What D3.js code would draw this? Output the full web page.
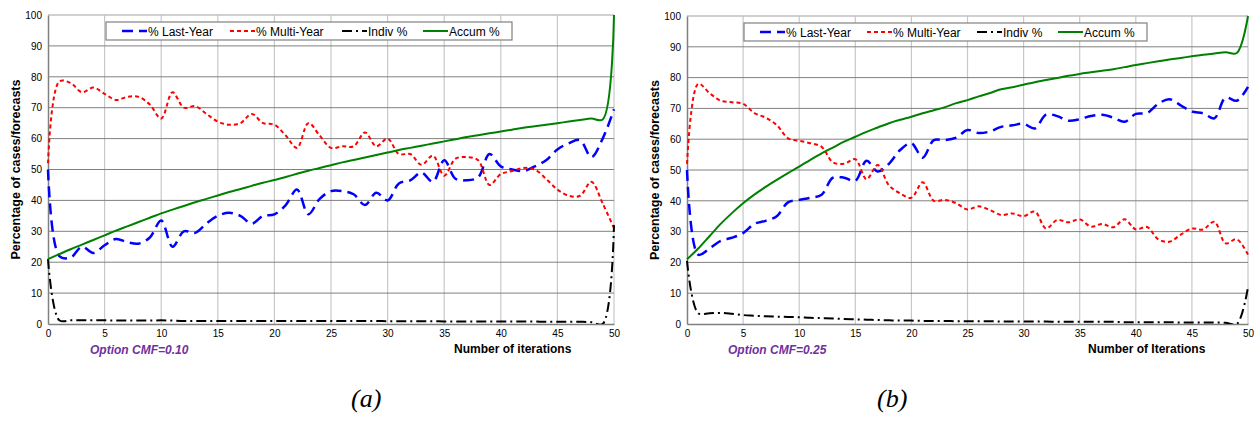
<!DOCTYPE html>
<html>
<head>
<meta charset="utf-8">
<script src="https://cdnjs.cloudflare.com/ajax/libs/d3/7.8.5/d3.min.js"></script>
<style>
    body { margin: 0; background: #fff; }
    svg { display: block; font-family: "Liberation Sans", Arial, sans-serif; }
    .axis text { font-size: 10px; fill: #000; }
</style>
</head>
<body>
<svg id="chart" width="1255" height="423"></svg>
<script>
// shared axes
var iterations = d3.range(0, 51);
var xTicks = [0, 5, 10, 15, 20, 25, 30, 35, 40, 45, 50];
var yTicks = [0, 10, 20, 30, 40, 50, 60, 70, 80, 90, 100];
var seriesNames = ["% Last-Year", "% Multi-Year", "Indiv %", "Accum %"];

// panel (a) : Option CMF=0.10
var lastYearA = [50, 22, 21.5, 25, 23, 25.5, 27.5, 26.5, 26, 28, 33.5, 25, 30, 29.5, 32.5, 35, 36, 35, 32.5, 35,
    35.5, 38.5, 43.5, 35.5, 40.5, 43, 43, 42, 38.5, 42.5, 40, 45.5, 46.5, 49, 46, 53, 47, 46.5, 47.5, 55,
    51, 50, 49.5, 51, 53, 56.5, 58.5, 59.5, 54, 60, 69.5];
var multiYearA = [52, 78.5, 78, 75, 76.5, 74.5, 72.5, 73.5, 73.5, 71, 66.5, 75, 70, 70.5, 68, 65.5, 64.5, 65, 68, 65,
    64.5, 61, 57, 65, 61, 57, 57.5, 57.5, 62, 57.5, 60, 55, 55, 51.5, 54.5, 48, 53.5, 54, 53, 45,
    48.5, 49.5, 50.5, 50, 47, 43.5, 41.5, 41.5, 46, 39, 31];
var indivA = [21, 1.2, 1.2, 1.2, 1.2, 1.2, 1.1, 1.1, 1.1, 1.1, 1.2, 1.1, 1, 1, 1, 1, 1, 1, 1, 1,
    1, 1, 1, 1, 1, 1, 1, 1, 1, 1, 0.9, 0.9, 0.9, 0.9, 0.9, 0.8, 0.8, 0.8, 0.8, 0.8,
    0.8, 0.8, 0.8, 0.8, 0.7, 0.7, 0.7, 0.7, 0.6, 0, 32];
var accumA = [21, 22.6, 24.2, 25.7, 27.2, 28.7, 30.2, 31.6, 33, 34.4, 35.8, 37, 38.2, 39.4, 40.5, 41.6, 42.7, 43.7, 44.7, 45.7,
    46.6, 47.6, 48.6, 49.6, 50.5, 51.4, 52.3, 53.1, 53.9, 54.7, 55.5, 56.3, 57, 57.7, 58.4, 59.1, 59.8, 60.5, 61.1, 61.7,
    62.3, 62.9, 63.5, 64, 64.5, 65, 65.5, 66, 66.5, 66.2, 100];

// panel (b) : Option CMF=0.25
var lastYearB = [50, 22.5, 24.5, 27, 28, 29.5, 32.5, 33.5, 35, 39.5, 40.3, 41, 42, 47.5, 47.5, 46.5, 53, 49.5, 52, 56.5,
    58.7, 54, 59.7, 59.7, 60.5, 63, 62, 62.5, 64, 64.5, 65, 63.5, 68, 67.5, 66, 66.5, 67.5, 67.9, 67, 65.7,
    68.2, 68.5, 71.5, 73, 71, 69, 68.4, 66.8, 73.5, 72.5, 77];
var multiYearB = [52, 78, 75, 72.5, 72, 71.5, 68.5, 67, 64.6, 60.3, 59.5, 58.7, 57.5, 52.5, 52, 53.5, 47, 51.6, 45, 42.4,
    41, 46, 40, 40.3, 39.2, 37.2, 38.2, 37, 35.4, 35.9, 35, 36.5, 31, 33.8, 33, 34, 31.6, 32.5, 31.4, 34,
    30.7, 31.5, 27.5, 26.7, 29, 31, 30.7, 33.2, 26.2, 27.5, 22.5];
var indivB = [20.5, 3.5, 3.5, 3.6, 3.3, 2.9, 2.7, 2.5, 2.4, 2.3, 2.2, 2, 1.9, 1.8, 1.6, 1.5, 1.4, 1.3, 1.2, 1.1,
    1.1, 1, 1, 1, 0.9, 0.9, 0.9, 0.9, 0.8, 0.8, 0.8, 0.8, 0.8, 0.7, 0.7, 0.7, 0.7, 0.7, 0.7, 0.6,
    0.6, 0.6, 0.6, 0.6, 0.5, 0.5, 0.5, 0.5, 0.4, 0, 12];
var accumB = [21, 24.5, 28.5, 32.5, 36, 39.2, 42, 44.5, 46.8, 49, 51.1, 53.3, 55.4, 57.3, 59.2, 60.8, 62.4, 63.8, 65.2, 66.3,
    67.3, 68.4, 69.4, 70.4, 71.7, 72.7, 73.9, 75, 76.2, 76.9, 77.7, 78.5, 79.2, 79.9, 80.6, 81.2, 81.7, 82.2, 82.7, 83.4,
    84.1, 84.7, 85.3, 85.9, 86.4, 86.9, 87.4, 87.8, 88.2, 88, 100];

// line styles for the four series
var styles = [
    { color: "#0000ff", width: 2.5, dash: "11,6" },
    { color: "#ff0000", width: 2, dash: "4,3" },
    { color: "#000000", width: 2, dash: "10,4,2,4" },
    { color: "#008000", width: 2, dash: null }
];

function Line_Chart(svg, cfg, series) {

    var x = d3.scaleLinear().domain([0, 50]).range([cfg.left, cfg.right]);
    var y = d3.scaleLinear().domain([0, 100]).range([cfg.bottom, cfg.top]);

    var g = svg.append("g");

    // vertical grid (light)
    g.selectAll(".vgrid")
        .data(xTicks.slice(1))
        .enter()
        .append("line")
        .attr("x1", function (d) { return x(d); })
        .attr("x2", function (d) { return x(d); })
        .attr("y1", y(0))
        .attr("y2", y(100))
        .attr("stroke", "#c8c8c8")
        .attr("stroke-width", 1.2);

    // horizontal grid (dark)
    g.selectAll(".hgrid")
        .data(yTicks.slice(1, -1))
        .enter()
        .append("line")
        .attr("x1", x(0))
        .attr("x2", x(50))
        .attr("y1", function (d) { return y(d); })
        .attr("y2", function (d) { return y(d); })
        .attr("stroke", "#808080")
        .attr("stroke-width", 1);

    // top border
    g.append("line")
        .attr("x1", x(0)).attr("x2", x(50))
        .attr("y1", y(100)).attr("y2", y(100))
        .attr("stroke", "#c0c0c0").attr("stroke-width", 1.5);

    // axes
    var xAxis = g.append("g")
        .attr("class", "axis")
        .attr("transform", "translate(0," + y(0) + ")")
        .call(d3.axisBottom(x).tickValues(xTicks).tickSize(0).tickPadding(6));
    var yAxis = g.append("g")
        .attr("class", "axis")
        .attr("transform", "translate(" + x(0) + ",0)")
        .call(d3.axisLeft(y).tickValues(yTicks).tickSize(0).tickPadding(6));
    xAxis.select(".domain").attr("stroke", "#808080").attr("stroke-width", 1.5);
    yAxis.select(".domain").attr("stroke", "#808080").attr("stroke-width", 1.5);

    // clip the smoothed lines to the plot
    var clipId = "clip-" + cfg.id;
    svg.append("clipPath").attr("id", clipId)
        .append("rect")
        .attr("x", x(0) - 2).attr("y", y(100) - 2)
        .attr("width", x(50) - x(0) + 4).attr("height", y(0) - y(100) + 2);

    var line = d3.line()
        .x(function (d, i) { return x(iterations[i]); })
        .y(function (d) { return y(d); })
        .curve(d3.curveCatmullRom.alpha(0.5));

    g.append("g")
        .attr("clip-path", "url(#" + clipId + ")")
        .selectAll("path")
        .data(series)
        .enter()
        .append("path")
        .attr("d", line)
        .attr("fill", "none")
        .attr("stroke", function (d, i) { return styles[i].color; })
        .attr("stroke-width", function (d, i) { return styles[i].width; })
        .attr("stroke-dasharray", function (d, i) { return styles[i].dash; })
        .attr("stroke-linejoin", "round");

    // legend
    var lg = g.append("g").attr("transform", "translate(" + cfg.legend.x + "," + cfg.legend.y + ")");
    lg.append("rect")
        .attr("width", cfg.legend.w).attr("height", 18)
        .attr("fill", "#fff").attr("stroke", "#808080").attr("stroke-width", 1.2);
    seriesNames.forEach(function (name, i) {
        var ox = cfg.legend.items[i];
        lg.append("line")
            .attr("x1", ox).attr("x2", ox + 25)
            .attr("y1", 9).attr("y2", 9)
            .attr("stroke", styles[i].color)
            .attr("stroke-width", styles[i].width)
            .attr("stroke-dasharray", styles[i].dash);
        lg.append("text")
            .attr("x", ox + 26).attr("y", 13.5)
            .attr("font-size", 12)
            .text(name);
    });

    // y title
    g.append("text")
        .attr("transform", "translate(" + cfg.yTitleX + "," + ((y(0) + y(100)) / 2) + ") rotate(-90)")
        .attr("text-anchor", "middle")
        .attr("dominant-baseline", "middle")
        .attr("font-size", 12.5)
        .attr("font-weight", "bold")
        .text("Percentage  of cases/forecasts");

    // option note and x title
    g.append("text")
        .attr("x", cfg.optionX).attr("y", 354)
        .attr("font-size", 12)
        .attr("font-weight", "bold")
        .attr("font-style", "italic")
        .attr("fill", "#7030a0")
        .text(cfg.option);
    g.append("text")
        .attr("x", cfg.xTitleX).attr("y", 353)
        .attr("font-size", 12)
        .attr("font-weight", "bold")
        .text(cfg.xTitle);

    // panel label
    g.append("text")
        .attr("x", cfg.panelX).attr("y", 407)
        .attr("font-family", "'Liberation Serif', 'Times New Roman', serif")
        .attr("font-style", "italic")
        .attr("font-size", 26)
        .text(cfg.panel);
}

var svg = d3.select("#chart");

Line_Chart(svg, {
    id: "a", left: 48, right: 614, top: 15, bottom: 324,
    legend: { x: 106, y: 22, w: 406, items: [16, 124, 236, 317] },
    yTitleX: 17, optionX: 90, xTitleX: 454, panelX: 351,
    option: "Option CMF=0.10", xTitle: "Number of iterations", panel: "(a)"
}, [lastYearA, multiYearA, indivA, accumA]);

Line_Chart(svg, {
    id: "b", left: 687, right: 1248, top: 16, bottom: 324,
    legend: { x: 744, y: 23, w: 403, items: [16, 123, 233, 314] },
    yTitleX: 656, optionX: 728, xTitleX: 1088, panelX: 877,
    option: "Option CMF=0.25", xTitle: "Number of Iterations", panel: "(b)"
}, [lastYearB, multiYearB, indivB, accumB]);
</script>
</body>
</html>
